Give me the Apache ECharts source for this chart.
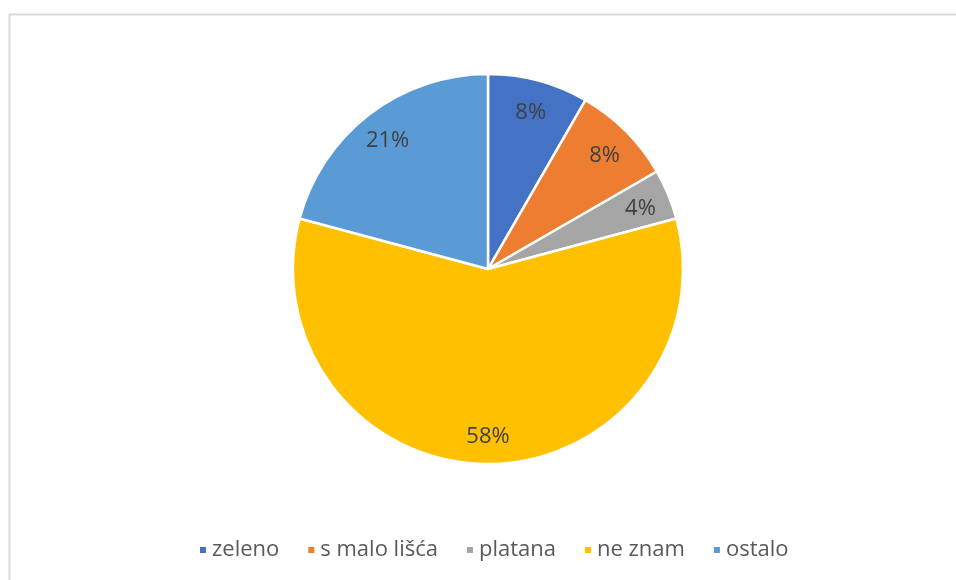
<!DOCTYPE html>
<html><head><meta charset="utf-8">
<script src="https://cdn.jsdelivr.net/npm/echarts@6/dist/echarts.min.js"></script>
<style>html,body{margin:0;padding:0;background:#fff}#c{width:956px;height:580px}</style>
</head><body><div id="c"></div>
<script>
const categories = ['zeleno', 's malo lišća', 'platana', 'ne znam', 'ostalo'];
const values = [2, 2, 1, 14, 5];
const colors = ['#4472C4', '#ED7D31', '#A5A5A5', '#FFC000', '#5B9BD5'];

const data = categories.map((n, i) => ({ name: n, value: values[i], itemStyle: { color: colors[i] } }));
const FONT = '"Open Sans", Lato, sans-serif';
const chart = echarts.init(document.getElementById('c'));
chart.setOption({
  animation: false,
  backgroundColor: '#fff',
  graphic: [{
    type: 'rect', left: 7, top: 12, silent: true,
    shape: { width: 1100, height: 1000 },
    style: { fill: 'none', stroke: '#d9d9d9', lineWidth: 2 }
  }],
  legend: {
    data: categories,
    bottom: 14, left: 193,
    itemWidth: 8, itemHeight: 8, itemGap: 27,
    icon: 'rect',
    textStyle: { fontFamily: FONT, fontSize: 22, color: '#595959', padding: [0, 0, 0, 0] }
  },
  series: [{
    type: 'pie',
    center: [488, 269],
    radius: [0, 195],
    startAngle: 90,
    clockwise: true,
    data: data,
    itemStyle: { borderColor: '#fff', borderWidth: 2.5 },
    label: { show: false },
    labelLine: { show: false },
    emphasis: { disabled: true }
  }, {
    type: 'pie',
    center: [488, 272],
    radius: [135, 189],
    startAngle: 90,
    clockwise: true,
    silent: true,
    data: categories.map((n, i) => ({ name: n, value: values[i], itemStyle: { color: 'rgba(0,0,0,0)' } })),
    itemStyle: { borderWidth: 0 },
    label: {
      show: true, position: 'inside',
      fontFamily: FONT, fontSize: 22, color: '#404040',
      formatter: p => Math.round(p.percent) + '%'
    },
    labelLine: { show: false },
    emphasis: { disabled: true }
  }]
});
</script></body></html>
